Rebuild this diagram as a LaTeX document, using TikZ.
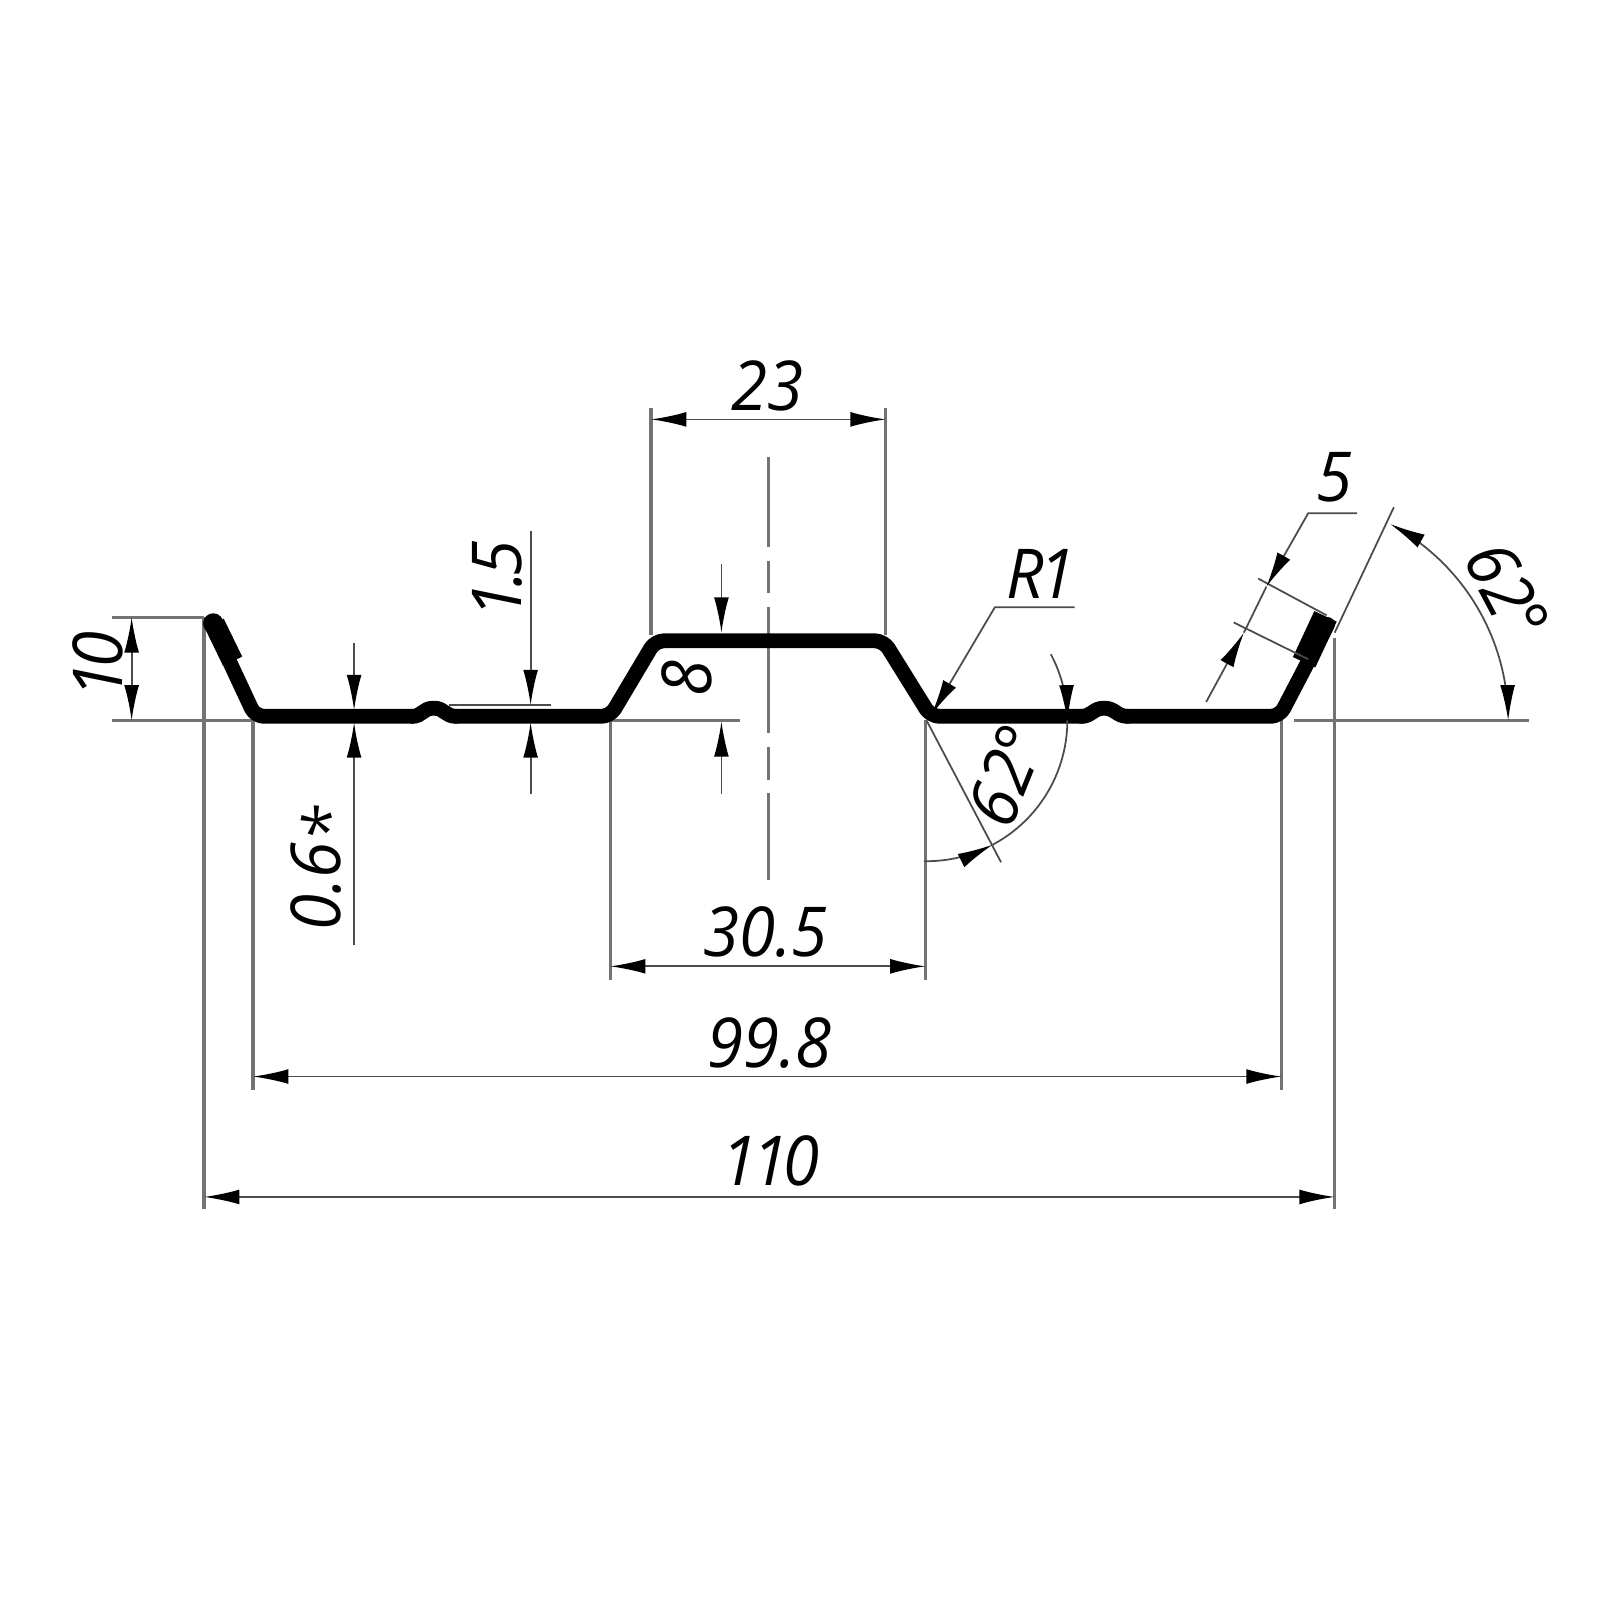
\documentclass[tikz,border=0pt]{standalone}
\usepackage{fontspec}
\setmainfont{Open Sans}[ItalicFeatures={FakeStretch=0.95}]
\usetikzlibrary{arrows.meta}
\definecolor{extgrey}{gray}{0.45}
\definecolor{dimgrey}{gray}{0.3}
\newcommand{\tightk}{\kern-0.07em}
\tikzset{
  ext/.style={draw=extgrey,line width=0.9pt},
  dimline/.style={draw=dimgrey,line width=0.5pt},
  dimarrow/.style={draw=dimgrey,line width=0.5pt},
  tip/.tip={Latex[length=10pt,width=4.2pt,black]},
  profile/.style={draw=black,line width=4.2pt,line cap=round,line join=round},
  lab/.style={font=\fontsize{19.5}{19.5}\selectfont\itshape,inner sep=0pt,text=black},
}
\begin{document}
\begin{tikzpicture}[x=0.28925pt,y=-0.28925pt]
\useasboundingbox (0,0) rectangle (1568,1568);
\fill[white] (0,0) rectangle (1568,1568);
% extension lines
\draw[ext] (110,605) -- (200,605);
\draw[ext] (110,706) -- (250,706);
\draw[ext] (598,706) -- (725,706);
\draw[ext] (1268,706) -- (1498,706);
\draw[ext] (200,605) -- (200,1185);
\draw[ext] (248,706) -- (248,1068);
\draw[ext] (598,706) -- (598,960);
\draw[ext] (907,706) -- (907,960);
\draw[ext] (1256,706) -- (1256,1068);
\draw[ext] (1308,625) -- (1308,1185);
\draw[ext] (638,400) -- (638,622);
\draw[ext] (868,400) -- (868,622);
\draw[dimline] (440,691) -- (540,691);
% centre line
\draw[ext,dash pattern=on 25.5pt off 3.8pt on 9.3pt off 4pt on 35.6pt off 4pt on 9.3pt off 3.8pt on 25pt off 50pt] (753,448) -- (753,862);
% profile
\draw[profile,rounded corners=2.5pt] (207,610) -- (250,702) -- (404,702);
\draw[profile,rounded corners=2.5pt] (447,702) -- (598,702) -- (642,628) -- (866,628) -- (912,702) -- (1060,702);
\draw[profile,rounded corners=2.5pt] (1105,702) -- (1254,702) -- (1301,612);
\draw[profile] (404,702) .. controls (414,702) and (414,694) .. (425,694) .. controls (436,694) and (436,702) .. (447,702);
\draw[profile] (1060,702) .. controls (1070,702) and (1071,694) .. (1082,694) .. controls (1093,694) and (1094,702) .. (1105,702);
\draw[draw=black,line width=6pt] (210,611) -- (228,648);
\fill[black] (209,611) circle[radius=10];
\draw[draw=black,line width=7pt,line join=round] (1299,604) -- (1278,649);
% dimension lines
\draw[dimarrow,{tip}-{tip}] (638,411) -- (868,411);
\draw[dimarrow,{tip}-{tip}] (598,947) -- (907,947);
\draw[dimarrow,{tip}-{tip}] (248,1055) -- (1256,1055);
\draw[dimarrow,{tip}-{tip}] (200,1173) -- (1308,1173);
\draw[dimarrow,{tip}-{tip}] (129,605) -- (129,706);
\draw[dimarrow,-{tip}] (347,630) -- (347,696);
\draw[dimarrow,-{tip}] (347,926) -- (347,708);
\draw[dimarrow,-{tip}] (520,520) -- (520,691);
\draw[dimarrow,-{tip}] (520,778) -- (520,708);
\draw[dimarrow,-{tip}] (707,553) -- (707,620);
\draw[dimarrow,-{tip}] (707,778) -- (707,707);
% R1
\draw[dimarrow,-{tip}] (1053,595) -- (975,595) -- (913,700);
% 62 left
\draw[dimline] (908,706) -- (981,845);
\draw[dimarrow,-{tip}] plot[domain=-28:0,samples=12] ({908+138*cos(\x)},{706+138*sin(\x)});
\draw[dimline] plot[domain=0:62,samples=24] ({908+138*cos(\x)},{706+138*sin(\x)});
\draw[dimarrow,-{tip}] plot[domain=91:62,samples=12] ({908+138*cos(\x)},{706+138*sin(\x)});
% 5
\draw[dimline] (1300,603) -- (1233,567);
\draw[dimline] (1282,646) -- (1209,610);
\draw[dimarrow,-{tip}] (1330,503) -- (1282,503) -- (1241,575);
\draw[dimarrow,-{tip}] (1182,688) -- (1219,620);
\draw[dimline] (1241,575) -- (1219,620);
% 62 right
\draw[dimline] (1308,620) -- (1366,497);
\draw[dimarrow,{tip}-{tip}] plot[domain=0:-62,samples=40] ({1260+218*cos(\x)},{706+218*sin(\x)});
% labels
\node[lab] (l23) at (752,378) {23};
\node[lab] (l305) at (750,913) {30.5};
\node[lab] (l998) at (754,1022) {99.8};
\node[lab] (l110) at (755,1138) {1\tightk1\tightk0};
\node[lab,rotate=90] (l10) at (96,652) {1\tightk0};
\node[lab,rotate=90] (l06) at (316,851) {0.6\raisebox{-0.35ex}{*}};
\node[lab,rotate=90] (l15) at (487,568) {1\tightk.\tightk5};
\node[lab,rotate=90] (l8) at (673,665) {8};
\node[lab] (lr1) at (1020,562) {R\tightk1};
\node[lab] (l5) at (1308,468) {5};
\node[lab,rotate=68] (la1) at (986,760) {62°};
\node[lab,rotate=-62] (la2) at (1477,579) {62°};
\end{tikzpicture}
\end{document}
